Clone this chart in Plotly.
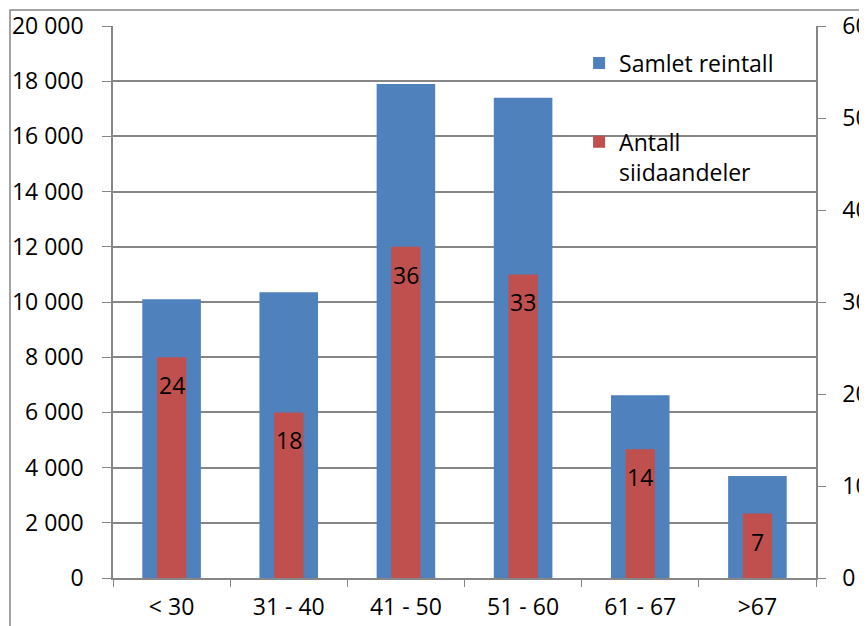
import plotly.graph_objects as go

# Data
age_groups = ["< 30", "31 - 40", "41 - 50", "51 - 60", "61 - 67", ">67"]
reintall = [10100, 10350, 17900, 17400, 6620, 3700]
siidaandeler = [24, 18, 36, 33, 14, 7]

grey = "#868686"
font = dict(family="Open Sans, Liberation Sans, sans-serif", size=23, color="black")

fig = go.Figure()

fig.add_trace(go.Bar(
    x=age_groups,
    y=reintall,
    name="Samlet reintall",
    marker=dict(color="#4F81BD", line=dict(width=0)),
    width=0.5,
    legendgroup="a",
))

fig.add_trace(go.Bar(
    x=age_groups,
    y=siidaandeler,
    name="Antall<br>siidaandeler",
    marker=dict(color="#C0504D", line=dict(width=0)),
    width=0.25,
    yaxis="y2",
    legendgroup="b",
))

# value labels a bit below the top of the red bars
for cat, val in zip(age_groups, siidaandeler):
    fig.add_annotation(
        x=cat, y=val, xref="x", yref="y2",
        text=str(val), showarrow=False,
        yshift=-28, font=font,
    )

# outer chart border
fig.add_shape(
    type="rect", xref="paper", yref="paper",
    x0=-0.1465, x1=1.3, y0=-0.3, y1=1.029,
    line=dict(color=grey, width=1.5),
    layer="below",
)

fig.update_layout(
    width=867,
    height=626,
    margin=dict(l=105, r=59, t=18, b=56, autoexpand=False),
    paper_bgcolor="white",
    plot_bgcolor="white",
    barmode="overlay",
    font=font,
    showlegend=True,
    legend=dict(
        x=0.663, y=0.972, xanchor="left", yanchor="top",
        bgcolor="rgba(0,0,0,0)",
        tracegroupgap=46,
        valign="top",
        font=dict(size=23),
        itemwidth=30,
    ),
    xaxis=dict(
        showline=True, linecolor=grey, linewidth=1.5,
        ticks="outside", tickson="boundaries", ticklen=7, tickcolor=grey,
        ticklabelstandoff=8,
        showgrid=False, automargin=False,
    ),
    yaxis=dict(
        range=[0, 20000],
        dtick=2000,
        tickformat=",d",
        showline=True, linecolor=grey, linewidth=1.5,
        ticks="outside", ticklen=9, tickcolor=grey,
        ticklabelstandoff=14,
        showgrid=True, gridcolor=grey, gridwidth=1.5,
        zeroline=False, automargin=False,
    ),
    yaxis2=dict(
        range=[0, 60],
        dtick=10,
        overlaying="y",
        side="right",
        showline=True, linecolor=grey, linewidth=1.5,
        ticks="outside", ticklen=8, tickcolor=grey,
        ticklabelstandoff=12,
        showgrid=False, zeroline=False, automargin=False,
    ),
    separators=". ",
)

fig.write_html("out.html")
